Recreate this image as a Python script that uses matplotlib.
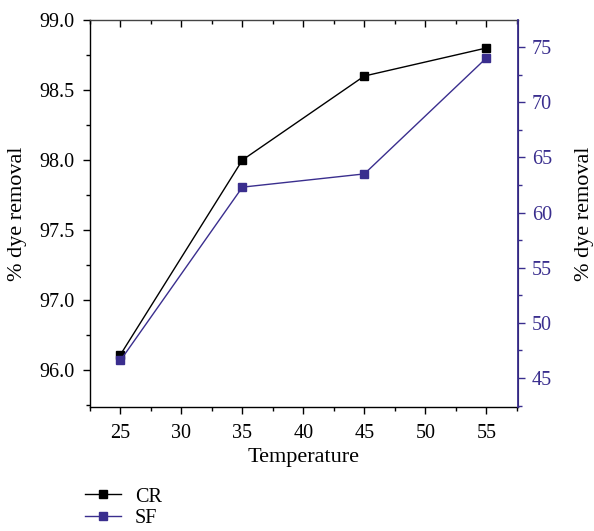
import matplotlib.pyplot as plt
import numpy as np

plt.rcParams['font.family'] = ['Liberation Serif', 'DejaVu Serif']

# data
temperature = [25, 35, 45, 55]
cr_removal = [96.61, 98.00, 98.60, 98.80]   # left axis
sf_removal = [46.6, 62.3, 63.5, 74.0]       # right axis

left_ticks = [96.5, 97.0, 97.5, 98.0, 98.5, 99.0]
left_labels = ["96.0", "97.0", "97.5", "98.0", "98.5", "99.0"]
right_ticks = [45, 50, 55, 60, 65, 70, 75]
x_ticks = [25, 30, 35, 40, 45, 50, 55]

purple = "#3a2e8e"

fig = plt.figure(figsize=(5.94, 5.31), dpi=100)
ax = fig.add_axes([0.1515, 0.2335, 0.7205, 0.7288])
ax2 = ax.twinx()

l1, = ax.plot(temperature, cr_removal, color="black", lw=1.0, marker="s",
              ms=5.3, markeredgecolor="black", label="CR")
l2, = ax2.plot(temperature, sf_removal, color=purple, lw=1.0, marker="s",
               ms=5.3, markeredgecolor=purple, label="SF")

ax.set_xlim(22.5, 57.6)
ax.set_ylim(96.236, 99.0)
ax2.set_ylim(42.37, 77.45)

ax.set_xticks(x_ticks)
ax.set_xticks(np.arange(22.5, 58, 2.5), minor=True)
ax.set_yticks(left_ticks)
ax.set_yticklabels(left_labels)
ax.set_yticks(np.arange(96.25, 99.01, 0.25), minor=True)
ax2.set_yticks(right_ticks)
ax2.set_yticks(np.arange(42.5, 77.5, 2.5), minor=True)

ax.tick_params(axis="x", which="both", direction="out", top=True, labelsize=14.5, pad=7)
ax.tick_params(axis="y", which="both", direction="out", labelsize=14.5, pad=6)
ax.tick_params(which="major", length=5, width=1)
ax.tick_params(which="minor", length=3, width=1)
ax2.tick_params(axis="y", which="both", direction="out", colors=purple,
                labelsize=14.5, pad=5)
ax2.tick_params(which="major", length=5, width=1)
ax2.tick_params(which="minor", length=3, width=1)

# top ticks point inward
for t in ax.xaxis.get_major_ticks() + ax.xaxis.get_minor_ticks():
    t.tick2line.set_marker(3)

for s in ["left", "bottom", "top"]:
    ax.spines[s].set_linewidth(1.0)
ax.spines["top"].set_color("#444444")
ax2.spines["right"].set_color(purple)
ax2.spines["right"].set_linewidth(1.3)
ax2.spines["left"].set_visible(False)
ax2.spines["top"].set_visible(False)
ax2.spines["bottom"].set_visible(False)

ax.set_xlabel("Temperature", fontsize=16)
ax.set_ylabel("% dye removal", fontsize=16)
ax2.set_ylabel("% dye removal", fontsize=16)
ax.xaxis.set_label_coords(0.5, -0.105)
ax.yaxis.set_label_coords(-0.148, 0.5)
ax2.yaxis.set_label_coords(1.133, 0.5)

fig.legend(handles=[l1, l2], loc="lower left", bbox_to_anchor=(0.12, -0.021),
           frameon=False, fontsize=14.5, handlelength=1.75, handletextpad=0.7,
           labelspacing=0.12, borderpad=0.2, markerscale=1.0)

fig.savefig("out.png", dpi=100)
